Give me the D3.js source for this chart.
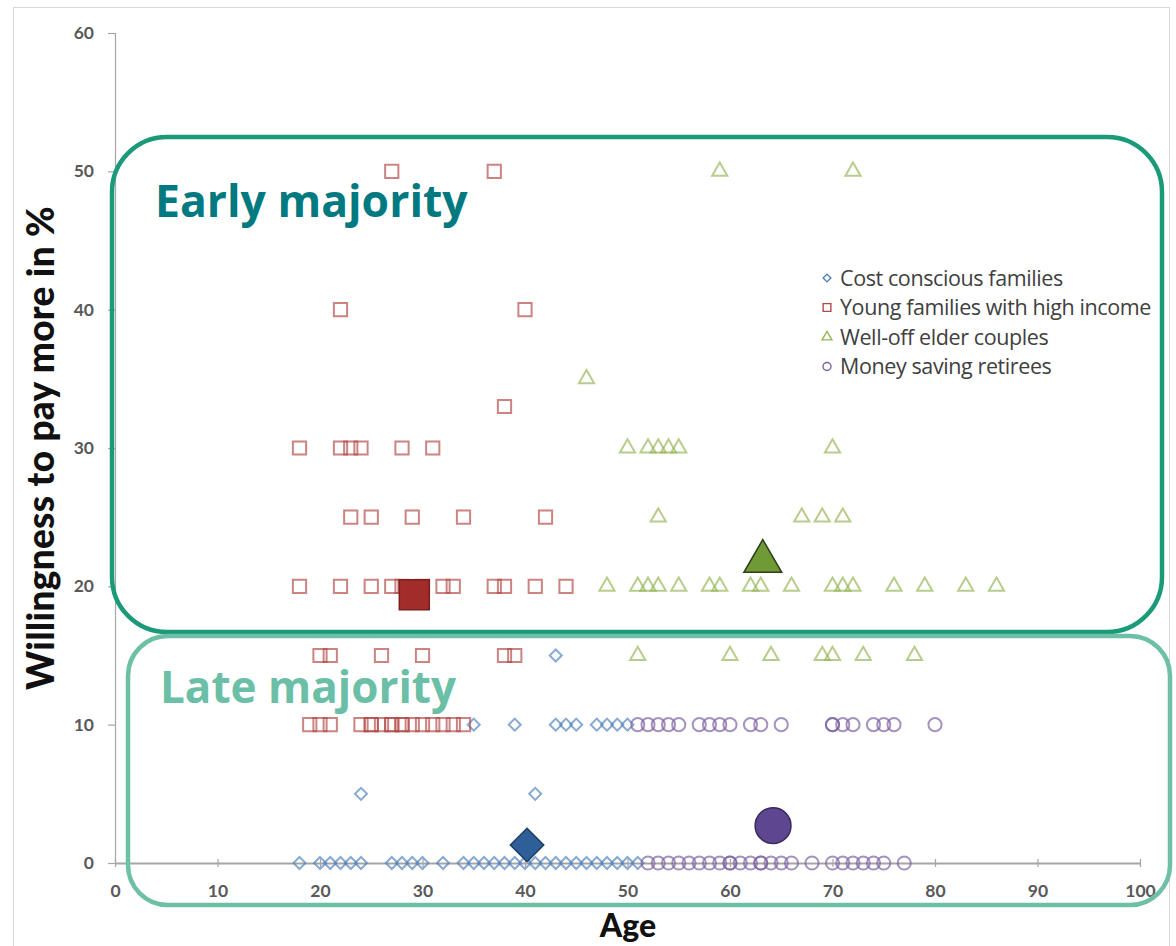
<!DOCTYPE html>
<html>
<head>
<meta charset="utf-8">
<script src="https://cdn.jsdelivr.net/npm/d3@7"></script>
<style>
  html, body { margin: 0; padding: 0; background: #fff; }
  svg { display: block; }
</style>
</head>
<body>
<svg id="chart" width="1176" height="946"></svg>
<script>
// Axis ticks
const ageTicks = [0, 10, 20, 30, 40, 50, 60, 70, 80, 90, 100];
const payTicks = [0, 10, 20, 30, 40, 50, 60];

// Respondents: [age, willingness to pay more in %]
const costConscious = [
  [18,0],[20,0],[21,0],[22,0],[23,0],[24,0],[27,0],[28,0],[29,0],[30,0],[32,0],
  [34,0],[35,0],[36,0],[37,0],[38,0],[39,0],[40,0],[41,0],[42,0],[43,0],[44,0],
  [45,0],[46,0],[47,0],[48,0],[49,0],[50,0],[51,0],
  [24,5],[41,5],
  [35,10],[39,10],[43,10],[44,10],[45,10],[47,10],[48,10],[49,10],[50,10],
  [43,15]
];
const youngFamilies = [
  [27,50],[37,50],
  [22,40],[40,40],
  [38,33],
  [18,30],[22,30],[23,30],[24,30],[28,30],[31,30],
  [23,25],[25,25],[29,25],[34,25],[42,25],
  [18,20],[22,20],[25,20],[27,20],[28,20],[30,20],[32,20],[33,20],[37,20],[38,20],[41,20],[44,20],
  [20,15],[21,15],[26,15],[30,15],[38,15],[39,15],
  [19,10],[20,10],[21,10],[24,10],[25,10],[25,10],[26,10],[27,10],[27,10],[28,10],[28,10],
  [29,10],[30,10],[31,10],[32,10],[33,10],[34,10]
];
const wellOffCouples = [
  [59,50],[72,50],
  [46,35],
  [50,30],[52,30],[53,30],[54,30],[55,30],[70,30],
  [53,25],[67,25],[69,25],[71,25],
  [48,20],[51,20],[52,20],[53,20],[55,20],[58,20],[59,20],[62,20],[63,20],[66,20],
  [70,20],[71,20],[72,20],[76,20],[79,20],[83,20],[86,20],
  [51,15],[60,15],[64,15],[69,15],[70,15],[73,15],[78,15]
];
const moneySavingRetirees = [
  [52,0],[53,0],[54,0],[55,0],[56,0],[57,0],[58,0],[59,0],[60,0],[60,0],[61,0],[62,0],
  [63,0],[63,0],[64,0],[65,0],[66,0],[68,0],[70,0],[71,0],[72,0],[73,0],[74,0],[75,0],[77,0],
  [51,10],[52,10],[53,10],[54,10],[55,10],[57,10],[58,10],[59,10],[60,10],[62,10],[63,10],
  [65,10],[70,10],[70,10],[71,10],[72,10],[74,10],[75,10],[76,10],[80,10]
];

// Segment averages: [age, willingness]
const segmentMeans = [
  [40.2, 1.3],
  [29.2, 19.4],
  [63.2, 21.8],
  [64.2, 2.7]
];

const segmentNames = [
  "Cost conscious families",
  "Young families with high income",
  "Well-off elder couples",
  "Money saving retirees"
];

const svg = d3.select("#chart");

// Outer chart frame
svg.append("rect")
  .attr("x", 13.5).attr("y", 7.5)
  .attr("width", 1156).attr("height", 960)
  .attr("fill", "none").attr("stroke", "#d9d9d9").attr("stroke-width", 1);

const x = d3.scaleLinear().domain([0, 100]).range([115, 1140]);
const y = d3.scaleLinear().domain([0, 60]).range([863, 33]);

const tickFont = "Lato, 'Open Sans', sans-serif";

// Y axis
const yAxis = svg.append("g")
  .attr("transform", `translate(${x(0)},0)`)
  .call(d3.axisLeft(y).tickValues(payTicks).tickSize(7).tickPadding(14));
yAxis.select(".domain").attr("stroke", "#a6a6a6").attr("stroke-width", 1.2);
yAxis.selectAll(".tick line").attr("stroke", "#a6a6a6").attr("stroke-width", 1.2);
yAxis.selectAll(".tick text")
  .attr("font-family", tickFont).attr("font-size", 17.5).attr("font-weight", 700)
  .attr("fill", "#595959");

// X axis
const xAxis = svg.append("g")
  .attr("transform", `translate(0,${y(0)})`)
  .call(d3.axisBottom(x).tickValues(ageTicks).tickSize(5).tickPadding(17).tickSizeOuter(0));
xAxis.select(".domain").attr("stroke", "#a6a6a6").attr("stroke-width", 2.2);
xAxis.selectAll(".tick line").attr("stroke", "#a6a6a6").attr("stroke-width", 1.2)
  .attr("y1", -4).attr("y2", 4);
xAxis.selectAll(".tick text")
  .attr("font-family", tickFont).attr("font-size", 17.5).attr("font-weight", 700)
  .attr("fill", "#595959");

// Axis titles
svg.append("text")
  .attr("transform", `translate(54,448) rotate(-90)`)
  .attr("text-anchor", "middle")
  .attr("font-family", tickFont).attr("font-weight", 900).attr("font-size", 37)
  .attr("letter-spacing", 0.3)
  .attr("fill", "#111")
  .text("Willingness to pay more in %");
svg.append("text")
  .attr("x", 628).attr("y", 937)
  .attr("text-anchor", "middle")
  .attr("font-family", tickFont).attr("font-weight", 900).attr("font-size", 32)
  .attr("fill", "#111")
  .text("Age");

// Marker styles per segment
const styles = [
  { pts: costConscious, shape: d3.symbolSquare, size: 72, rot: 45,
    stroke: "#4f81bd", fill: "#2f5f98", bigStroke: "#1f3f66", bigSize: 560 },
  { pts: youngFamilies, shape: d3.symbolSquare, size: 175, rot: 0,
    stroke: "#b24a47", fill: "#a02d2a", bigStroke: "#7a1f1d", bigSize: 900 },
  { pts: wellOffCouples, shape: d3.symbolTriangle, size: 100, rot: 0,
    stroke: "#95b556", fill: "#6f9a36", bigStroke: "#2f3f18", bigSize: 620 },
  { pts: moneySavingRetirees, shape: d3.symbolCircle, size: 135, rot: 0,
    stroke: "#7a5fa0", fill: "#5e4690", bigStroke: "#3a2a5c", bigSize: 1010 }
];

const marks = svg.append("g");
styles.forEach(s => {
  const path = d3.symbol().type(s.shape).size(s.size)();
  marks.append("g").selectAll("path")
    .data(s.pts)
    .join("path")
    .attr("d", path)
    .attr("transform", d => `translate(${x(d[0])},${y(d[1])}) rotate(${s.rot})`)
    .attr("fill", "none")
    .attr("stroke", s.stroke)
    .attr("stroke-opacity", 0.68)
    .attr("stroke-width", 2);
});

// Segment averages (large filled markers)
styles.forEach((s, i) => {
  const m = segmentMeans[i];
  marks.append("path")
    .attr("d", d3.symbol().type(s.shape).size(s.bigSize)())
    .attr("transform", `translate(${x(m[0])},${y(m[1])}) rotate(${s.rot})`)
    .attr("fill", s.fill)
    .attr("stroke", s.bigStroke)
    .attr("stroke-width", 1.5);
});

// Legend
const legend = svg.append("g").attr("transform", "translate(827,278)");
const legendSizes = [30, 60, 42, 50];
styles.forEach((s, i) => {
  const g = legend.append("g").attr("transform", `translate(0,${i * 29.5})`);
  g.append("path")
    .attr("d", d3.symbol().type(s.shape).size(legendSizes[i])())
    .attr("transform", `rotate(${s.rot})`)
    .attr("fill", "none").attr("stroke", s.stroke).attr("stroke-width", 1.4);
  g.append("text")
    .attr("x", 13).attr("y", 0).attr("dy", "0.35em")
    .attr("font-family", "'Open Sans', sans-serif").attr("font-size", 21.5)
    .attr("letter-spacing", -0.4)
    .attr("fill", "#404040")
    .text(segmentNames[i]);
});

// Adoption groups
svg.append("rect")
  .attr("x", 112).attr("y", 137).attr("width", 1050).attr("height", 495)
  .attr("rx", 55).attr("ry", 55)
  .attr("fill", "none").attr("stroke", "#1a9a78").attr("stroke-width", 4.5);
svg.append("rect")
  .attr("x", 128).attr("y", 636).attr("width", 1042).attr("height", 269)
  .attr("rx", 40).attr("ry", 40)
  .attr("fill", "none").attr("stroke", "#6dbfa6").attr("stroke-width", 4.5);

svg.append("text")
  .attr("x", 155).attr("y", 217)
  .attr("font-family", "'Open Sans', sans-serif").attr("font-weight", 700).attr("font-size", 44.5)
  .attr("fill", "#007a80")
  .text("Early majority");
svg.append("text")
  .attr("x", 160).attr("y", 703)
  .attr("font-family", "'Open Sans', sans-serif").attr("font-weight", 700).attr("font-size", 44)
  .attr("fill", "#6abfa6")
  .text("Late majority");
</script>
</body>
</html>
